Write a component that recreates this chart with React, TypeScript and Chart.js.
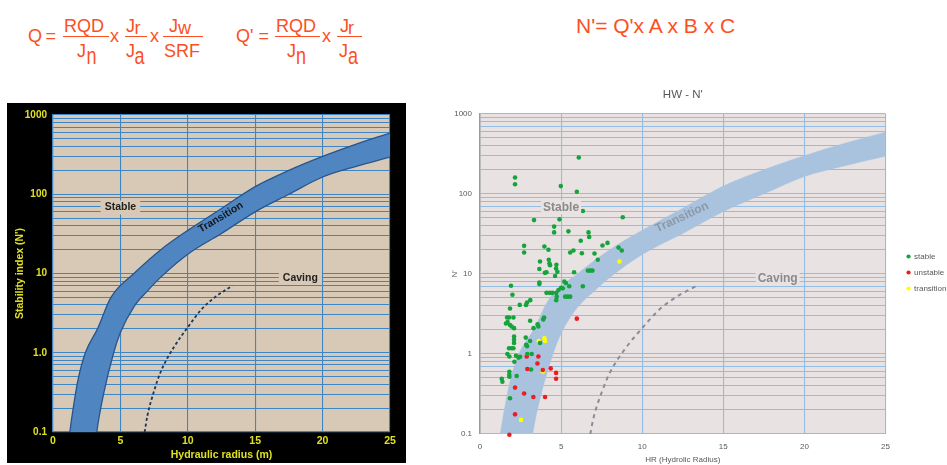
import React, { useEffect, useRef } from 'react';
import { Chart, registerables } from 'chart.js';

Chart.register(...registerables);

// ---------- data ----------
const xTickValues = [0, 5, 10, 15, 20, 25];
const yGridValues = [
  0.1, 0.2, 0.3, 0.4, 0.5, 0.6, 0.7, 0.8, 0.9,
  1, 2, 3, 4, 5, 6, 7, 8, 9,
  10, 20, 30, 40, 50, 60, 70, 80, 90,
  100, 200, 300, 400, 500, 600, 700, 800, 900,
  1000,
];
const yLabelValues = [0.1, 1, 10, 100, 1000];
const yLabelsLeft = ['0.1', '1.0', '10', '100', '1000'];
const yLabelsRight = ['0.1', '1', '10', '100', '1000'];

// stable / transition boundary (upper edge of band)
const upperX = [1.05, 1.25, 1.5, 1.85, 2.4, 3.3, 4.3, 6, 8, 10, 12.5, 15, 17.5, 20, 22.5, 25];
const upperY = [0.05, 0.1, 0.2, 0.45, 1, 2, 5, 10, 20, 35, 66, 125, 200, 300, 430, 590];
// transition / caving boundary (lower edge of band)
const lowerX = [1.05, 3.0, 3.25, 3.75, 4.5, 5, 6, 7, 8, 10, 12.5, 15, 17.5, 20, 22.5, 25];
const lowerY = [0.01, 0.04, 0.1, 0.3, 1.0, 1.8, 3.8, 6, 9, 17.5, 32, 60, 100, 165, 225, 295];
// dashed curve
const dashX = [6.8, 7.0, 7.5, 8, 9, 10, 11, 12, 13.3];
const dashY = [0.1, 0.16, 0.33, 0.58, 1.2, 2.1, 3.5, 5.0, 7.0];

// zone labels
const zoneNames = ['Stable', 'Transition', 'Caving'];
const zoneX = [5.0, 12.45, 18.35];
const zoneY = [68, 51, 8.8];

// HW - N' observations
const stableX = [
  6.09, 2.16, 2.16, 4.98, 5.97, 6.34, 3.33, 4.9, 8.8, 4.57, 4.57, 5.45, 6.69, 6.73,
  7.55, 7.86, 6.21, 2.72, 2.72, 3.97, 4.22, 5.76, 5.56, 6.28, 7.06, 8.54, 8.74, 7.26,
  3.7, 4.24, 4.28, 4.32, 4.71, 4.69, 4.77, 3.66, 4.0, 4.1, 4.63, 5.8, 6.65, 6.8, 6.93,
  3.66, 3.66, 1.91, 2.0, 5.2, 5.3, 5.5, 6.34, 5.0, 5.1, 4.84, 4.1, 4.3, 4.46, 4.7,
  4.73, 4.7, 5.25, 5.4, 5.56, 3.1, 2.9, 2.84, 2.45, 1.85, 1.67, 1.79, 2.06, 1.7, 1.85,
  1.95, 1.6, 3.09, 2.1, 3.6, 3.55, 3.9, 3.95, 3.3, 2.1, 2.1, 2.1, 2.82, 3.09, 2.85,
  2.9, 1.79, 1.95, 2.06, 2.92, 3.19, 1.69, 1.81, 2.22, 2.37, 2.47, 2.12, 3.15, 1.81,
  1.81, 1.81, 2.26, 1.34, 1.38, 1.85, 3.7,
];
const stableY = [
  284, 160, 132, 125, 106, 61, 47, 48, 51, 39, 33, 34, 33, 29,
  22.6, 24.4, 26, 22.4, 18.5, 22, 20, 19.6, 18.5, 18.1, 18, 21.3, 19.6, 15,
  14.3, 15, 13.5, 12.8, 13, 11.7, 10.6, 11.5, 10.3, 10.5, 9.4, 10.5, 11, 11, 11,
  7.8, 7.5, 7.1, 5.5, 8.0, 7.7, 7.0, 7.0, 6.7, 6.6, 6.3, 5.8, 5.8, 5.8, 5.8,
  5.2, 4.7, 5.2, 5.2, 5.2, 4.7, 4.4, 4.1, 4.1, 3.7, 2.85, 2.85, 2.85, 2.5, 2.3,
  2.2, 2.4, 2.6, 2.1, 2.2, 2.35, 2.7, 2.85, 2.1, 1.65, 1.5, 1.37, 1.6, 1.45, 1.3,
  1.25, 1.18, 1.18, 1.18, 1.0, 1.0, 1.0, 0.93, 0.95, 0.9, 0.92, 0.8, 0.64, 0.6,
  0.55, 0.52, 0.53, 0.49, 0.45, 0.28, 1.37,
];
const unstableX = [5.97, 2.88, 3.6, 3.54, 2.92, 3.87, 4.36, 4.69, 4.69, 2.16, 2.72, 3.29, 4.01, 2.16, 1.81];
const unstableY = [2.76, 0.93, 0.93, 0.76, 0.65, 0.63, 0.66, 0.58, 0.49, 0.38, 0.32, 0.29, 0.29, 0.176, 0.098];
const transitionX = [8.6, 3.62, 3.97, 4.01, 3.87, 2.53];
const transitionY = [14.3, 1.45, 1.57, 1.45, 0.6, 0.15];

// ---------- helpers ----------
const pts = (xs: number[], ys: number[]) => xs.map((x, i) => ({ x, y: ys[i] }));
const labelFor = (labels: string[]) => (v: number) => {
  const i = yLabelValues.findIndex((d) => Math.abs(v - d) / d < 1e-6);
  return i >= 0 ? labels[i] : '';
};
const setXTicks = (s: any) => { s.ticks = xTickValues.map((v) => ({ value: v })); };
const setYTicks = (s: any) => { s.ticks = yGridValues.map((v) => ({ value: v })); };

const bgPlugin = (outer: string | null, inner: string) => ({
  id: 'bg',
  beforeDraw(chart: any) {
    const { ctx, chartArea: a, width, height } = chart;
    ctx.save();
    if (outer) { ctx.fillStyle = outer; ctx.fillRect(0, 0, width, height); }
    ctx.fillStyle = inner;
    ctx.fillRect(a.left, a.top, a.right - a.left, a.bottom - a.top);
    ctx.restore();
  },
});

const zonePlugin = (cfg: { colors: string[]; font: string; box: string; boxed: boolean[]; angles: number[]; pad: number }) => ({
  id: 'zones',
  afterDatasetsDraw(chart: any) {
    const { ctx, scales } = chart;
    zoneNames.forEach((name, i) => {
      const px = scales.x.getPixelForValue(zoneX[i]);
      const py = scales.y.getPixelForValue(zoneY[i]);
      ctx.save();
      ctx.translate(px, py);
      ctx.rotate((cfg.angles[i] * Math.PI) / 180);
      ctx.font = cfg.font;
      ctx.textAlign = 'center';
      ctx.textBaseline = 'middle';
      if (cfg.boxed[i]) {
        const w = ctx.measureText(name).width;
        ctx.fillStyle = cfg.box;
        ctx.fillRect(-w / 2 - cfg.pad, -7, w + 2 * cfg.pad, 14);
      }
      ctx.fillStyle = cfg.colors[i];
      ctx.fillText(name, 0, 0);
      ctx.restore();
    });
  },
});

// ---------- left chart ----------
const YELLOW = '#e0e022';
const LBLUE = '#3d86c3';
const narrow = '"Liberation Sans Narrow", "Arial Narrow", "Liberation Sans", Arial, sans-serif';
const sans = '"Liberation Sans", Arial, Helvetica, sans-serif';

function leftConfig(): any {
  return {
    type: 'line',
    data: {
      datasets: [
        { data: pts(upperX, upperY), borderColor: '#27558b', borderWidth: 1.3, backgroundColor: '#4f86c2', fill: '+1', pointRadius: 0, cubicInterpolationMode: 'monotone' },
        { data: pts(lowerX, lowerY), borderColor: '#27558b', borderWidth: 1.3, fill: false, pointRadius: 0, cubicInterpolationMode: 'monotone' },
        { data: pts(dashX, dashY), borderColor: '#1e3358', borderWidth: 1.8, borderDash: [3, 2.5], fill: false, pointRadius: 0, cubicInterpolationMode: 'monotone' },
      ],
    },
    options: {
      responsive: false,
      animation: false,
      events: [],
      layout: { padding: { left: 0, right: 16, top: 12, bottom: 0 } },
      plugins: { legend: { display: false }, tooltip: { enabled: false }, filler: { drawTime: 'beforeDatasetsDraw' } },
      scales: {
        x: {
          type: 'linear', min: 0, max: 25,
          afterBuildTicks: setXTicks,
          afterFit: (s: any) => { s.height = 31; },
          grid: { color: LBLUE, lineWidth: 1.1, drawTicks: false },
          border: { color: LBLUE, width: 1.2 },
          ticks: { color: YELLOW, font: { family: narrow, size: 10.5, weight: 'bold' }, padding: 3, maxRotation: 0, autoSkip: false },
          title: { display: true, text: 'Hydraulic radius (m)', color: YELLOW, font: { family: sans, size: 10.5, weight: 'bold' }, padding: { top: 0, bottom: 2 } },
        },
        y: {
          type: 'logarithmic', min: 0.1, max: 1000,
          afterBuildTicks: setYTicks,
          afterFit: (s: any) => { s.width = 46; },
          grid: { color: LBLUE, lineWidth: 1.1, drawTicks: false },
          border: { color: LBLUE, width: 1.2 },
          ticks: { color: YELLOW, font: { family: narrow, size: 10, weight: 'bold' }, padding: 6, autoSkip: false, callback: labelFor(yLabelsLeft) },
          title: { display: true, text: "Stability index (N')", color: YELLOW, font: { family: sans, size: 10.5, weight: 'bold' }, padding: { top: 7, bottom: 0 } },
        },
      },
    },
    plugins: [
      bgPlugin('#000000', '#d8c9b6'),
      zonePlugin({ colors: ['#222', '#161616', '#222'], font: `bold 10.5px ${sans}`, box: '#d8c9b6', boxed: [true, false, true], angles: [0, -31, 0], pad: 4 }),
    ],
  };
}

// ---------- right chart ----------
const GRAY = '#595959';
const RGRID = '#93bde2';
const BAND = '#a9c3df';

function rightConfig(): any {
  return {
    type: 'line',
    data: {
      datasets: [
        { type: 'scatter', label: 'stable', data: pts(stableX, stableY), backgroundColor: '#16a33b', borderWidth: 0, pointRadius: 2.3, pointStyle: 'circle', clip: false, yAxisID: 'y' },
        { type: 'scatter', label: 'unstable', data: pts(unstableX, unstableY), backgroundColor: '#ec1c24', borderWidth: 0, pointRadius: 2.3, pointStyle: 'circle', clip: false, yAxisID: 'y' },
        { type: 'scatter', label: 'transition', data: pts(transitionX, transitionY), backgroundColor: '#ffff00', borderWidth: 0, pointRadius: 2.3, pointStyle: 'circle', clip: false, yAxisID: 'y' },
        { label: 'upper', data: pts(upperX, upperY), borderColor: BAND, borderWidth: 0.5, backgroundColor: BAND, fill: '+1', pointRadius: 0, cubicInterpolationMode: 'monotone', yAxisID: 'y' },
        { label: 'lower', data: pts(lowerX, lowerY), borderColor: BAND, borderWidth: 0.5, fill: false, pointRadius: 0, cubicInterpolationMode: 'monotone', yAxisID: 'y' },
        { label: 'caving', data: pts(dashX, dashY), borderColor: '#8a8d99', borderWidth: 2, borderDash: [4, 4], fill: false, pointRadius: 0, cubicInterpolationMode: 'monotone', yAxisID: 'y' },
      ],
    },
    options: {
      responsive: false,
      animation: false,
      events: [],
      layout: { padding: { left: 0, right: -9.5, top: 0, bottom: 0 } },
      plugins: {
        tooltip: { enabled: false },
        filler: { drawTime: 'beforeDatasetsDraw' },
        title: { display: true, fullSize: false, text: "HW - N'", color: GRAY, font: { family: sans, size: 11.5, weight: 'normal' }, padding: { top: 8, bottom: 12 } },
        legend: {
          display: true, position: 'right',
          labels: {
            filter: (item: any) => item.datasetIndex < 3,
            usePointStyle: true, pointStyle: 'circle', boxWidth: 3, boxHeight: 3, padding: 8,
            color: GRAY, font: { family: sans, size: 8 },
          },
        },
      },
      scales: {
        x: {
          type: 'linear', min: 0, max: 25,
          afterBuildTicks: setXTicks,
          afterFit: (s: any) => { s.height = 31; },
          grid: { color: RGRID, lineWidth: 1.1, drawTicks: false },
          border: { display: false },
          ticks: { color: GRAY, font: { family: sans, size: 8 }, padding: 8, maxRotation: 0, autoSkip: false },
          title: { display: true, text: 'HR (Hydrolic Radius)', color: GRAY, font: { family: sans, size: 8 }, padding: { top: 0, bottom: 0 } },
        },
        y: {
          type: 'logarithmic', position: 'left', min: 0.1, max: 1000,
          afterBuildTicks: setYTicks,
          afterFit: (s: any) => { s.width = 30; },
          grid: { color: RGRID, lineWidth: 1.1, drawTicks: false },
          border: { color: '#9b9b9b', width: 1.5 },
          ticks: { color: GRAY, font: { family: sans, size: 8 }, padding: 8, autoSkip: false, callback: labelFor(yLabelsRight) },
          title: { display: true, text: "N'", color: GRAY, font: { family: sans, size: 8 }, padding: { top: 0, bottom: 0 } },
        },
        gap: {
          type: 'linear', position: 'right', display: true,
          grid: { display: false }, border: { display: false }, ticks: { display: false },
          afterFit: (s: any) => { s.width = 13.5; },
        },
      },
    },
    plugins: [
      bgPlugin(null, '#e8e3e2'),
      zonePlugin({ colors: ['#8a8a8a', '#8c98a6', '#8a8a8a'], font: `bold 12px ${sans}`, box: '#e8e3e2', boxed: [true, false, true], angles: [0, -25, 0], pad: 2 }),
    ],
  };
}

// ---------- formulas ----------
const ORANGE = '#fb4f24';

function T({ x, b, s = 18, sy = 1, children }: any) {
  const asc = s * 0.8465;
  return (
    <span
      style={{
        position: 'absolute', left: x, top: b - asc, fontSize: s, lineHeight: `${s}px`,
        fontFamily: sans, color: ORANGE, whiteSpace: 'pre',
        transform: sy !== 1 ? `scaleY(${sy})` : undefined, transformOrigin: `0 ${asc}px`,
      }}
    >
      {children}
    </span>
  );
}
function Bar({ x, y, w }: any) {
  return <div style={{ position: 'absolute', left: x, top: y, width: w, height: 1.5, background: ORANGE }} />;
}

export default function App() {
  const leftRef = useRef<HTMLCanvasElement | null>(null);
  const rightRef = useRef<HTMLCanvasElement | null>(null);

  useEffect(() => {
    const left = new Chart(leftRef.current as HTMLCanvasElement, leftConfig());
    const right = new Chart(rightRef.current as HTMLCanvasElement, rightConfig());
    return () => { left.destroy(); right.destroy(); };
  }, []);

  return (
    <div style={{ position: 'absolute', left: 0, top: 0, width: 947, height: 465, background: '#fff', overflow: 'hidden' }}>
      {/* Q formula */}
      <T x={28} b={42}>Q</T>
      <T x={45.5} b={42}>=</T>
      <T x={64} b={32}>RQD</T>
      <Bar x={63} y={35.5} w={46} />
      <T x={77} b={57}>J</T>
      <T x={86.5} b={64} sy={1.3}>n</T>
      <T x={110} b={42}>x</T>
      <T x={126} b={32}>J</T>
      <T x={134.5} b={34}>r</T>
      <Bar x={125} y={35.5} w={22} />
      <T x={126} b={57}>J</T>
      <T x={134.5} b={64} sy={1.3}>a</T>
      <T x={150} b={42}>x</T>
      <T x={169} b={32}>J</T>
      <T x={178} b={34}>w</T>
      <Bar x={163} y={35.5} w={40} />
      <T x={164} b={57}>SRF</T>

      {/* Q' formula */}
      <T x={236} b={42}>Q'</T>
      <T x={258.5} b={42}>=</T>
      <T x={276} b={32}>RQD</T>
      <Bar x={275} y={35.5} w={45} />
      <T x={287} b={57}>J</T>
      <T x={296} b={64} sy={1.3}>n</T>
      <T x={322} b={42}>x</T>
      <T x={340} b={32}>J</T>
      <T x={348} b={34}>r</T>
      <Bar x={337} y={35.5} w={25} />
      <T x={339} b={57}>J</T>
      <T x={348} b={64} sy={1.3}>a</T>

      {/* N' formula */}
      <T x={576} b={33} s={21}>N'= Q'x A x B x C</T>

      <canvas ref={leftRef} width={399} height={360} style={{ position: 'absolute', left: 7, top: 103, width: 399, height: 360 }} />
      <canvas ref={rightRef} width={497} height={385} style={{ position: 'absolute', left: 450, top: 80, width: 497, height: 385 }} />
    </div>
  );
}
